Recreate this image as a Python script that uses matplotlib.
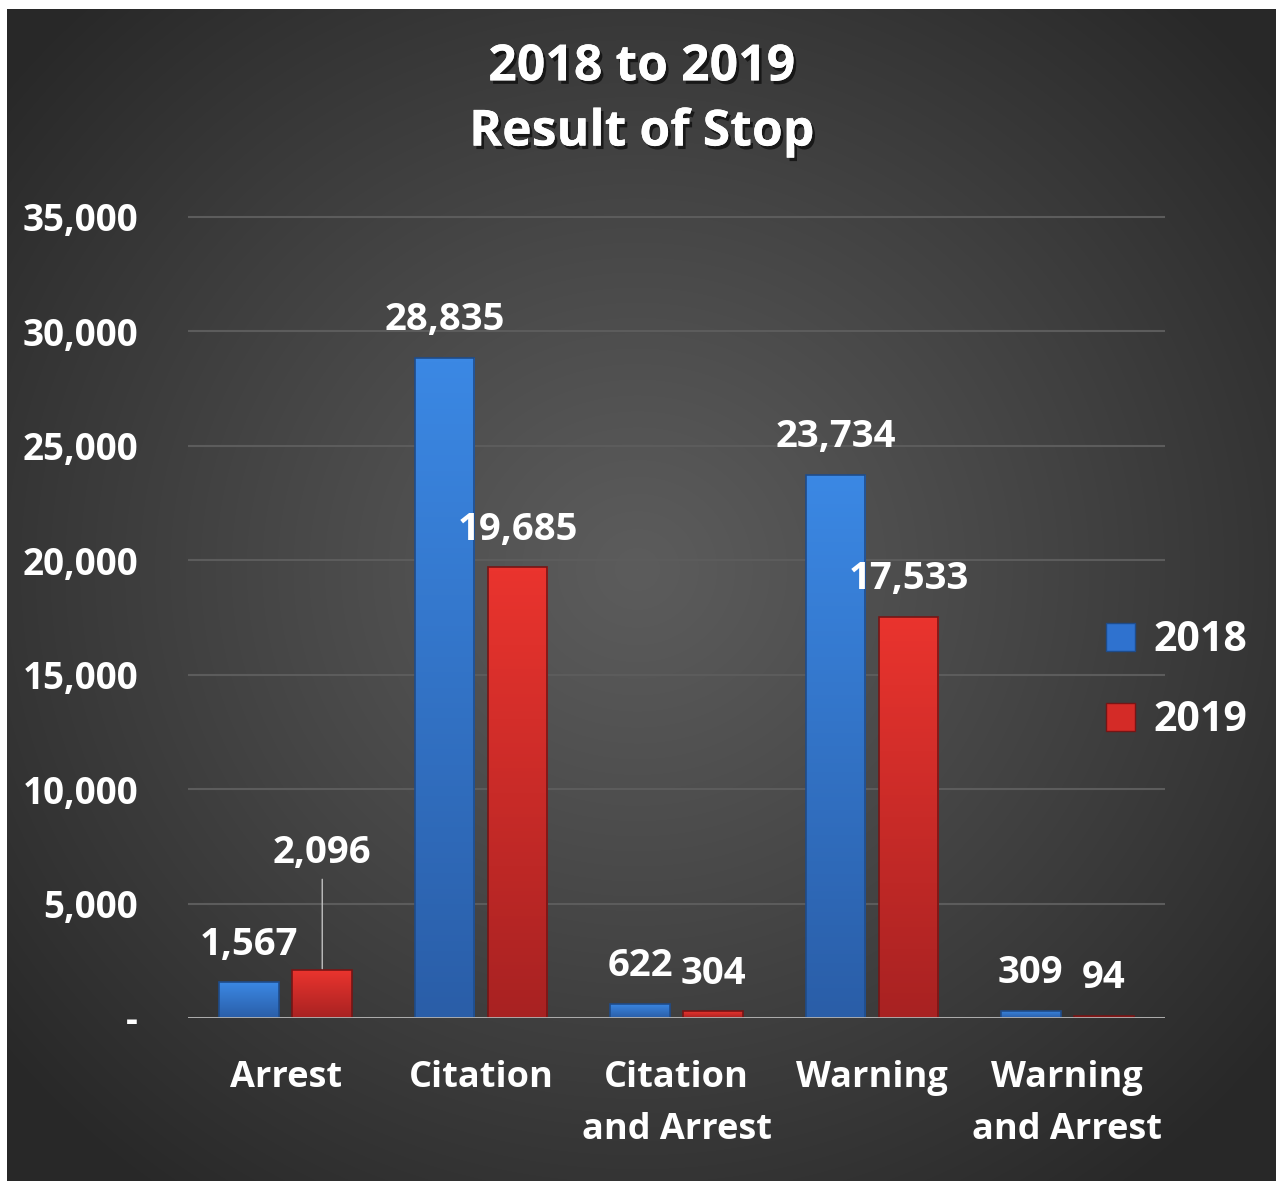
import numpy as np
import matplotlib
matplotlib.use("Agg")
import matplotlib.pyplot as plt
import matplotlib.patheffects as pe
from matplotlib.patches import Patch

plt.rcParams['font.family'] = ['Open Sans', 'DejaVu Sans']
plt.rcParams['font.weight'] = 'bold'

# Stop outcomes, 2018 vs 2019
categories = ["Arrest", "Citation", "Citation\nand Arrest", "Warning", "Warning\nand Arrest"]
stops_2018 = [1567, 28835, 622, 23734, 309]
stops_2019 = [2096, 19685, 304, 17533, 94]
years = ["2018", "2019"]
y_ticks = [0, 5000, 10000, 15000, 20000, 25000, 30000, 35000]

W, H = 1276, 1181
fig = plt.figure(figsize=(W / 100, H / 100), dpi=100)
fig.patch.set_facecolor("white")

# dark panel with a soft radial glow
bg = fig.add_axes([7 / W, 0, 1 - 7 / W, 1 - 9 / H])
bg.set_axis_off()
yy, xx = np.mgrid[0:H - 9, 0:W - 7]
r = np.sqrt(((xx - 630) / 1.0) ** 2 + ((yy - 560) / 0.95) ** 2)
t = np.clip(r / 820, 0, 1) ** 1.1
light, dark = 0x5c / 255, 0x28 / 255
shade = light + (dark - light) * t
bg.imshow(np.dstack([shade] * 3), aspect="auto", interpolation="bilinear")

ax = fig.add_axes([188 / W, 1 - 1018 / H, (1165 - 188) / W, (1018 - 215) / H])
ax.patch.set_alpha(0)

x = np.arange(len(categories))
bw = 0.305
off = 0.187


def gradient_bars(bars, top, bottom, edge):
    cmap = matplotlib.colors.LinearSegmentedColormap.from_list("g", [bottom, top])
    grad = np.linspace(0, 1, 128).reshape(-1, 1)
    for b in bars:
        x0, y0 = b.get_x(), b.get_y()
        w, h = b.get_width(), b.get_height()
        im = ax.imshow(grad, cmap=cmap, aspect="auto", origin="lower",
                       extent=(x0, x0 + w, y0, y0 + h), zorder=2)
        im.set_clip_path(b)
        b.set_facecolor("none")
        b.set_edgecolor(edge)
        b.set_linewidth(1.2)
        b.set_zorder(3)


b18 = ax.bar(x - off, stops_2018, bw)
b19 = ax.bar(x + off, stops_2019, bw)
gradient_bars(b18, "#3b88e4", "#2a5ea8", "#1f4c8a")
gradient_bars(b19, "#ea342e", "#a82222", "#761515")

ax.set_xlim(-0.5, len(categories) - 0.5)
ax.set_ylim(0, 35080)
ax.set_yticks(y_ticks)
ax.set_yticklabels([f"{v:,}" if v else "-" for v in y_ticks])
ax.set_xticks(x)
ax.set_xticklabels(categories, linespacing=1.6)
ax.tick_params(axis="y", length=0, pad=36, labelsize=26.5, labelcolor="white")
ax.tick_params(axis="x", length=0, pad=30, labelsize=26, labelcolor="white")
for s in ax.spines.values():
    s.set_visible(False)
ax.grid(axis="y", color="#5c5c5c", linewidth=1.5, zorder=0)
ax.set_axisbelow(True)
ax.axhline(0, color="#b5b5b5", linewidth=2, zorder=4)

# value labels
for bars, vals in ((b18, stops_2018), (b19, stops_2019)):
    for b, v in zip(bars, vals):
        cx = b.get_x() + b.get_width() / 2
        if v == 2096:
            ax.annotate(f"{v:,}", (cx, v), xytext=(0, 84), textcoords="offset points",
                        ha="center", va="center", color="white", fontsize=27.5,
                        fontweight="bold",
                        arrowprops=dict(arrowstyle="-", color="#c0c0c0", lw=1,
                                        shrinkA=3, shrinkB=1))
        else:
            ax.annotate(f"{v:,}", (cx, v), xytext=(0, 27), textcoords="offset points",
                        ha="center", va="center", color="white", fontsize=27.5,
                        fontweight="bold")

handles = [Patch(facecolor="#2f72cf", edgecolor="#1f4c8a"),
           Patch(facecolor="#d42b27", edgecolor="#761515")]
leg = ax.legend(handles, years, loc="center left", bbox_to_anchor=(0.902, 0.42),
                frameon=False, fontsize=29.5, handlelength=0.7, handleheight=0.7,
                handletextpad=0.45, labelspacing=0.95)
for txt in leg.get_texts():
    txt.set_color("white")

fig.text(0.503, 1 - 100 / H, "2018 to 2019\nResult of Stop", ha="center", va="center",
         color="white", fontsize=36, fontweight="bold", linespacing=1.4,
         path_effects=[pe.withSimplePatchShadow(offset=(2, -2.5), shadow_rgbFace="black",
                                                alpha=0.6), pe.Normal()])

fig.savefig("out.png", dpi=100)
